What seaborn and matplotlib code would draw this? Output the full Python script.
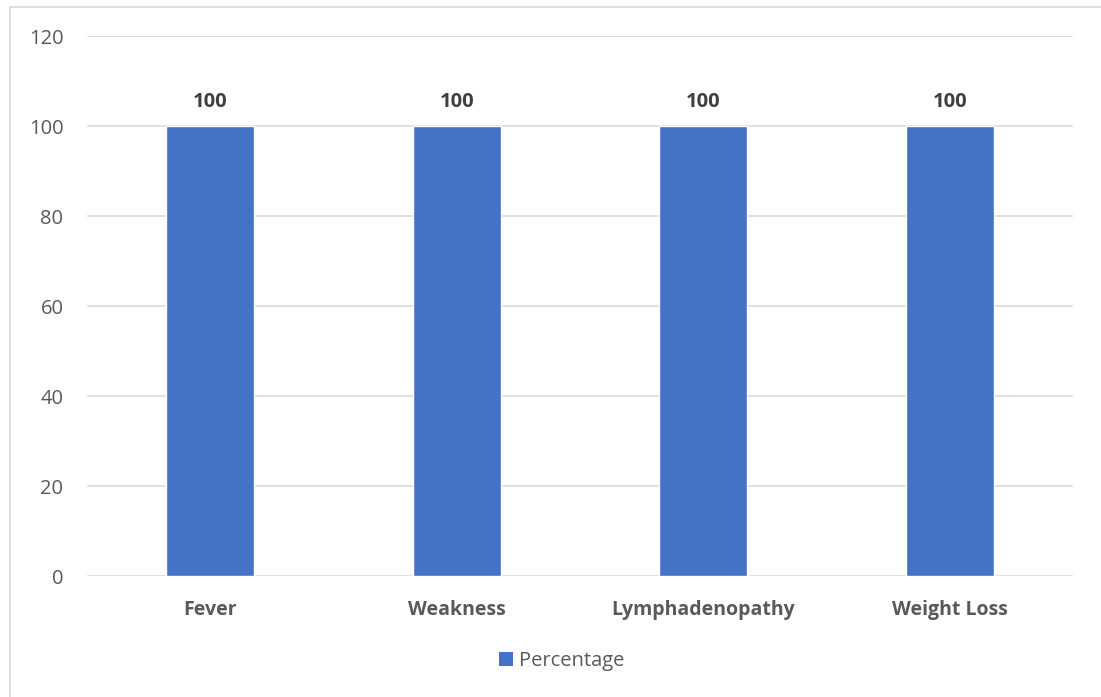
import matplotlib
matplotlib.use("Agg")
import matplotlib.pyplot as plt
from matplotlib.lines import Line2D
from matplotlib.patches import Patch
import seaborn as sns
import pandas as pd

symptoms = ["Fever", "Weakness", "Lymphadenopathy", "Weight Loss"]
percentages = [100, 100, 100, 100]
y_ticks = [0, 20, 40, 60, 80, 100, 120]
series_name = "Percentage"

bar_color = "#4472C4"
text_color = "#595959"
grid_color = "#D9D9D9"

sns.set_theme(style="white")
plt.rcParams["font.family"] = ["Open Sans", "DejaVu Sans"]

df = pd.DataFrame({"symptom": symptoms, "value": percentages})

fig = plt.figure(figsize=(11.01, 6.97), dpi=100)
ax = fig.add_axes([87 / 1101, 1 - 576 / 697, (1073 - 87) / 1101, (576 - 36) / 697])

sns.barplot(data=df, x="symptom", y="value", color=bar_color, width=0.355,
            saturation=1, ax=ax, zorder=3)

ax.set_xlim(-0.5, len(symptoms) - 0.5)
ax.set_ylim(0, 120)
ax.set_yticks(y_ticks)
ax.set_yticklabels([str(t) for t in y_ticks], fontsize=14.5, color=text_color)
ax.set_xticks(range(len(symptoms)))
ax.set_xticklabels(symptoms, fontsize=14, color=text_color, fontweight="bold")
ax.tick_params(axis="both", length=0)
ax.tick_params(axis="y", pad=17)
ax.tick_params(axis="x", pad=17)
ax.set_xlabel("")
ax.set_ylabel("")

for s in ax.spines.values():
    s.set_visible(False)
ax.grid(axis="y", color=grid_color, linewidth=1.1, zorder=0)
ax.set_axisbelow(True)

# value labels above the bars
for patch, v in zip(ax.patches, percentages):
    ax.annotate(f"{v}", (patch.get_x() + patch.get_width() / 2, v),
                xytext=(0, 17.5), textcoords="offset points", ha="center",
                va="center", fontsize=14.5, fontweight="bold", color="#404040")

# legend below the plot
handle = Patch(facecolor=bar_color, edgecolor="none")
fig.legend([handle], [series_name], loc="center", bbox_to_anchor=(0.51, 1 - 661 / 697),
           frameon=False, fontsize=14.5, handlelength=0.7, handleheight=0.7,
           handletextpad=0.3, labelcolor=text_color)

# chart-area frame (top and left edges)
fig.add_artist(Line2D([10 / 1101, 1.0], [1 - 7 / 697, 1 - 7 / 697],
                      transform=fig.transFigure, color=grid_color, linewidth=1.2))
fig.add_artist(Line2D([10 / 1101, 10 / 1101], [0, 1 - 7 / 697],
                      transform=fig.transFigure, color=grid_color, linewidth=1.2))

fig.savefig("out.png", dpi=100, facecolor="white")
